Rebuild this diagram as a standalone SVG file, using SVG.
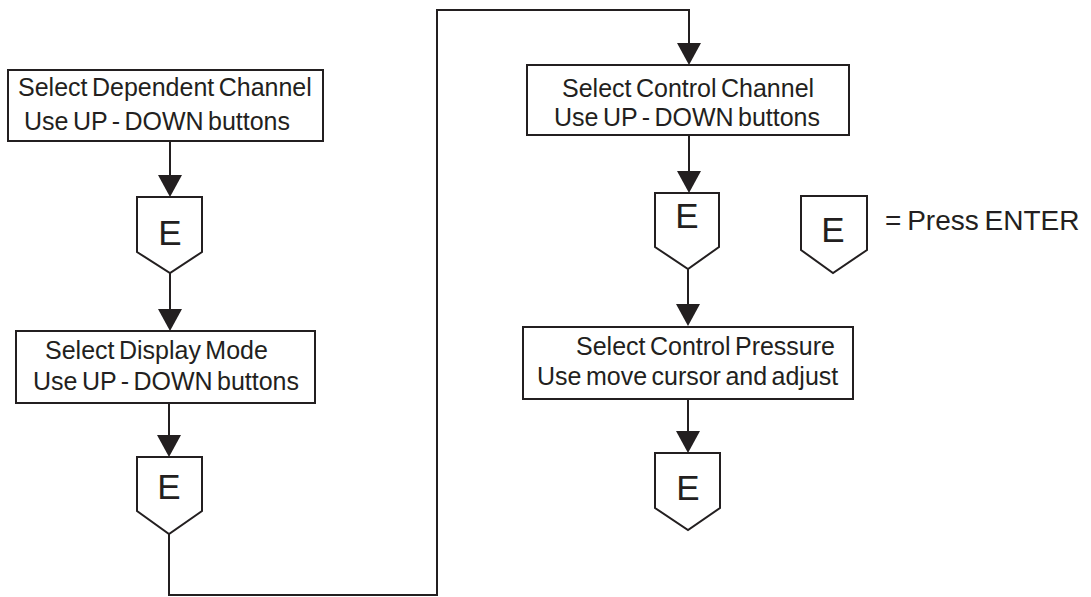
<svg xmlns="http://www.w3.org/2000/svg" width="1091" height="597" viewBox="0 0 1091 597">
<defs>
<style>
.box{fill:#fff;stroke:#231f20;stroke-width:2}
.pent{fill:#fff;stroke:#231f20;stroke-width:2;stroke-linejoin:miter}
.t{font-family:"Liberation Sans",Arial,sans-serif;font-size:25px;word-spacing:-2.5px;fill:#231f20}
.e{font-family:"Liberation Sans",Arial,sans-serif;font-size:35px;fill:#231f20;text-anchor:middle}
.lg{font-family:"Liberation Sans",Arial,sans-serif;font-size:28px;word-spacing:-2px;fill:#231f20}
.c{fill:none;stroke:#231f20;stroke-width:2;marker-end:url(#ah)}
</style>
<marker id="ah" viewBox="0 0 22 24" refX="18" refY="12" markerWidth="22" markerHeight="24" markerUnits="userSpaceOnUse" orient="auto">
<path d="M0,0 L22,12 L0,24 Z" fill="#231f20"/>
</marker>
</defs>
<rect width="1091" height="597" fill="#fff"/>
<g id="connectors">
<line class="c" x1="170" y1="141" x2="170" y2="193"/>
<line class="c" x1="170" y1="273" x2="170" y2="327"/>
<line class="c" x1="169" y1="403" x2="169" y2="453"/>
<polyline class="c" points="169,534 169,595 437,595 437,10 689,10 689,61"/>
<line class="c" x1="689" y1="135" x2="689" y2="189"/>
<line class="c" x1="688" y1="269" x2="688" y2="322"/>
<line class="c" x1="688" y1="399" x2="688" y2="449"/>
</g>
<g id="n1">
<rect class="box" x="8" y="70" width="315" height="71"/>
<text class="t" x="18" y="96">Select Dependent Channel</text>
<text class="t" x="24" y="130">Use UP - DOWN buttons</text>
</g>
<g id="e1">
<polygon class="pent" points="137,197 202,197 202,252 170,273 137,252"/>
<text class="e" x="170" y="245">E</text>
</g>
<g id="n2">
<rect class="box" x="16" y="331" width="299" height="72"/>
<text class="t" x="45" y="359">Select Display Mode</text>
<text class="t" x="33" y="390">Use UP - DOWN buttons</text>
</g>
<g id="e2">
<polygon class="pent" points="137,457 202,457 202,511 169,534 137,511"/>
<text class="e" x="169" y="499">E</text>
</g>
<g id="n3">
<rect class="box" x="527" y="65" width="322" height="70"/>
<text class="t" x="562" y="97">Select Control Channel</text>
<text class="t" x="554" y="126">Use UP - DOWN buttons</text>
</g>
<g id="e3">
<polygon class="pent" points="655,193 719,193 719,247 688,269 655,247"/>
<text class="e" x="687" y="228">E</text>
</g>
<g id="n4">
<rect class="box" x="523" y="327" width="330" height="72"/>
<text class="t" x="576" y="355">Select Control Pressure</text>
<text class="t" x="537" y="385">Use move cursor and adjust</text>
</g>
<g id="e4">
<polygon class="pent" points="655,453 720,453 720,508 688,530 655,508"/>
<text class="e" x="688" y="500">E</text>
</g>
<g id="legend">
<polygon class="pent" points="801,196 867,196 867,250 833,273 801,250"/>
<text class="e" x="833" y="242">E</text>
<text class="lg" x="885" y="230">= Press ENTER</text>
</g>
</svg>
